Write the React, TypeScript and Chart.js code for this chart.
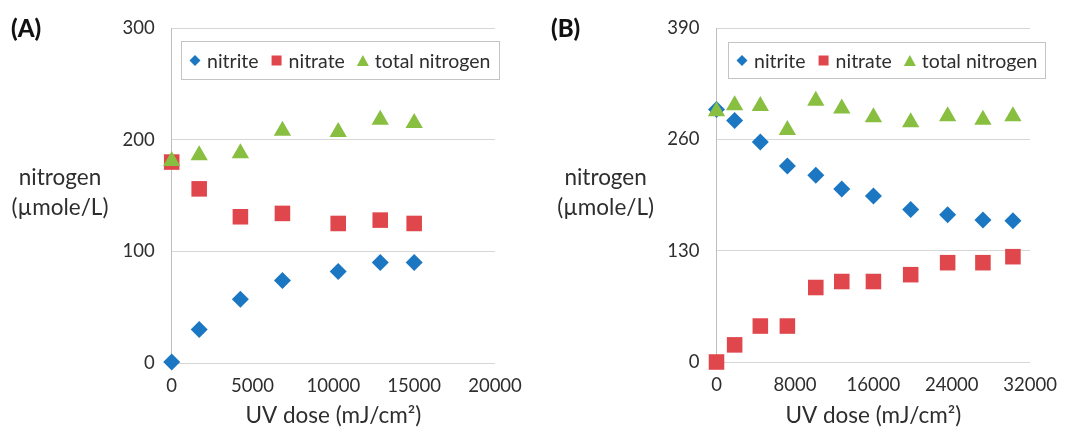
import React, { useEffect, useRef } from 'react';
import { Chart, registerables } from 'chart.js';

Chart.register(...registerables);

const FONT = 'Lato, "Open Sans", "DejaVu Sans", sans-serif';
const TEXT = '#2e2e2e';

const SERIES_NAMES = ['nitrite', 'nitrate', 'total nitrogen'];
const SERIES_COLORS = ['#1C77C3', '#E0474C', '#88BF41'];

// Panel (A)
const doseA = [0, 1700, 4250, 6850, 10300, 12900, 15000];
const nitriteA = [1, 30, 57, 74, 82, 90, 90];
const nitrateA = [180, 156, 131, 134, 125, 128, 125];
const totalA = [181, 186, 188, 208, 207, 218, 215];
const xTicksA = [0, 5000, 10000, 15000, 20000];
const yTicksA = [0, 100, 200, 300];

// Panel (B)
const doseB = [0, 1850, 4470, 7230, 10130, 12780, 16010, 19810, 23580, 27180, 30240];
const nitriteB = [295, 282, 257, 229, 218, 202, 194, 178, 172, 166, 165];
const nitrateB = [0, 20, 42, 42, 87, 94, 94, 102, 116, 116, 123];
const totalB = [293, 300, 299, 271, 305, 296, 286, 280, 287, 283, 287];
const xTicksB = [0, 8000, 16000, 24000, 32000];
const yTicksB = [0, 130, 260, 390];

type Box = { left: number; right: number; top: number; bottom: number };
type Shape = 'diamond' | 'square' | 'triangle';
const SHAPES: Shape[] = ['diamond', 'square', 'triangle'];

function drawMarker(ctx: CanvasRenderingContext2D, shape: Shape, x: number, y: number, color: string) {
  ctx.fillStyle = color;
  ctx.beginPath();
  if (shape === 'diamond') {
    const r = 5.5;
    ctx.moveTo(x, y - r);
    ctx.lineTo(x + r, y);
    ctx.lineTo(x, y + r);
    ctx.lineTo(x - r, y);
  } else if (shape === 'square') {
    const s = 10;
    ctx.rect(x - s / 2, y - s / 2, s, s);
  } else {
    const w = 12;
    const h = 11;
    ctx.moveTo(x, y - h / 2);
    ctx.lineTo(x + w / 2, y + h / 2);
    ctx.lineTo(x - w / 2, y + h / 2);
  }
  ctx.closePath();
  ctx.fill();
}

function legendPlugin(box: Box) {
  return {
    id: 'legendBox',
    afterDraw(chart: Chart) {
      const ctx = chart.ctx;
      ctx.save();
      ctx.fillStyle = '#ffffff';
      ctx.fillRect(box.left, box.top, box.right - box.left, box.bottom - box.top);
      ctx.strokeStyle = '#c4c4c4';
      ctx.lineWidth = 1;
      ctx.strokeRect(box.left + 0.5, box.top + 0.5, box.right - box.left - 1, box.bottom - box.top - 1);
      ctx.font = `19.5px ${FONT}`;
      ctx.textBaseline = 'middle';
      ctx.textAlign = 'left';
      const cy = (box.top + box.bottom) / 2;
      let x = box.left + 14;
      SERIES_NAMES.forEach((name, i) => {
        drawMarker(ctx, SHAPES[i], x, cy, SERIES_COLORS[i]);
        ctx.fillStyle = TEXT;
        ctx.fillText(name, x + 12, cy + 1);
        x += 12 + ctx.measureText(name).width + 18;
      });
      ctx.restore();
    },
  };
}

type PanelProps = {
  label: string;
  left: number;
  width: number;
  dose: number[];
  nitrite: number[];
  nitrate: number[];
  total: number[];
  xTicks: number[];
  yTicks: number[];
  area: Box;
  legend: Box;
  yTitleX: number;
};

function Panel(p: PanelProps) {
  const ref = useRef<HTMLCanvasElement | null>(null);

  useEffect(() => {
    if (!ref.current) return;
    const H = 429;
    const toPts = (ys: number[]) => p.dose.map((x, i) => ({ x, y: ys[i] }));
    const values = [p.nitrite, p.nitrate, p.total];
    const styles = ['rectRot', 'rect', 'triangle'];
    const radii = [8.5, 11, 10];

    const chart = new Chart(ref.current, {
      type: 'scatter',
      data: {
        datasets: values.map((v, i) => ({
          label: SERIES_NAMES[i],
          data: toPts(v),
          pointStyle: styles[i] as any,
          pointRadius: radii[i],
          pointHoverRadius: radii[i],
          backgroundColor: SERIES_COLORS[i],
          borderColor: SERIES_COLORS[i],
          borderWidth: 0,
          showLine: false,
          clip: false as any,
          order: 3 - i,
        })),
      },
      options: {
        animation: false,
        responsive: true,
        maintainAspectRatio: false,
        layout: { padding: { left: 0, right: p.width - p.area.right, top: p.area.top, bottom: 0 } },
        plugins: { legend: { display: false }, tooltip: { enabled: false } },
        scales: {
          x: {
            type: 'linear',
            min: p.xTicks[0],
            max: p.xTicks[p.xTicks.length - 1],
            afterBuildTicks: (s: any) => {
              s.ticks = p.xTicks.map((v) => ({ value: v }));
            },
            afterFit: (s: any) => {
              s.height = H - p.area.bottom;
            },
            grid: { display: false, drawTicks: false },
            border: { display: false },
            ticks: {
              padding: 12,
              color: TEXT,
              font: { family: FONT, size: 18.5 },
              maxRotation: 0,
              autoSkip: false,
              callback: (v: any) => String(v),
            },
            title: {
              display: true,
              text: 'UV dose (mJ/cm²)',
              color: TEXT,
              font: { family: FONT, size: 22.5 },
              padding: { top: 0, bottom: 0 },
            },
          },
          y: {
            type: 'linear',
            min: p.yTicks[0],
            max: p.yTicks[p.yTicks.length - 1],
            afterBuildTicks: (s: any) => {
              s.ticks = p.yTicks.map((v) => ({ value: v }));
            },
            afterFit: (s: any) => {
              s.width = p.area.left;
            },
            grid: { color: '#d6d6d6', lineWidth: 1, drawTicks: false },
            border: { display: true, color: '#bdbdbd', width: 1 },
            ticks: {
              padding: 17,
              color: TEXT,
              font: { family: FONT, size: 18.5 },
              autoSkip: false,
              callback: (v: any) => String(v),
            },
          },
        },
      },
      plugins: [legendPlugin(p.legend)],
    });
    return () => chart.destroy();
  }, []);

  return (
    <div style={{ position: 'absolute', left: p.left, top: 0, width: p.width, height: 429 }}>
      <div style={{ position: 'relative', width: p.width, height: 429 }}>
        <canvas ref={ref} />
      </div>
      <div
        style={{
          position: 'absolute',
          left: 11,
          top: 14,
          fontFamily: FONT,
          fontWeight: 900,
          fontSize: 24,
          lineHeight: '28px',
          color: '#111',
        }}
      >
        {p.label}
      </div>
      <div
        style={{
          position: 'absolute',
          left: p.yTitleX - 70,
          width: 140,
          top: 162,
          textAlign: 'center',
          fontFamily: FONT,
          fontSize: 22.5,
          lineHeight: '30px',
          color: TEXT,
        }}
      >
        nitrogen
        <br />
        (µmole/L)
      </div>
    </div>
  );
}

export default function App() {
  return (
    <div style={{ position: 'absolute', left: 0, top: 0, width: 1069, height: 429, background: '#fff', overflow: 'hidden' }}>
      <Panel
        label="(A)"
        left={0}
        width={540}
        dose={doseA}
        nitrite={nitriteA}
        nitrate={nitrateA}
        total={totalA}
        xTicks={xTicksA}
        yTicks={yTicksA}
        area={{ left: 171.7, right: 495, top: 25, bottom: 363 }}
        legend={{ left: 181, right: 500, top: 41, bottom: 80 }}
        yTitleX={60}
      />
      <Panel
        label="(B)"
        left={540}
        width={529}
        dose={doseB}
        nitrite={nitriteB}
        nitrate={nitrateB}
        total={totalB}
        xTicks={xTicksB}
        yTicks={yTicksB}
        area={{ left: 176.5, right: 499, top: 25, bottom: 362 }}
        legend={{ left: 188, right: 506, top: 42, bottom: 79 }}
        yTitleX={65.6}
      />
    </div>
  );
}
